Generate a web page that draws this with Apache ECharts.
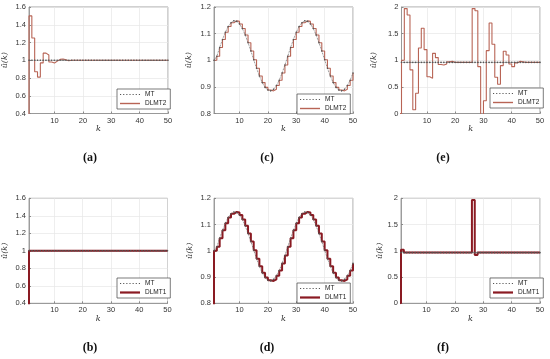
<!DOCTYPE html>
<html><head><meta charset="utf-8">
<script src="https://cdn.jsdelivr.net/npm/echarts@6/dist/echarts.min.js"></script>
<style>html,body{margin:0;padding:0;background:#fff}#c{width:550px;height:359px}</style>
</head><body><div id="c"></div>
<script>
// ---- data (k = 0..50 for controllers, k = 1..50 for MT) ----
const dlmt2A = [0, 1.50, 1.25, 0.87, 0.81, 0.97, 1.08, 1.06, 0.98, 0.97, 0.99, 1.01, 1.015, 1.005, 0.995,
  1,1,1,1,1,1,1,1,1,1,1,1,1,1,1,1,1,1,1,1,1,1,1,1,1,1,1,1,1,1,1,1,1,1,1,1];
const mtA = [1,1,1,1,1,1,1,1,1,1,1,1,1,1,1,1,1,1,1,1,1,1,1,1,1,1,1,1,1,1,1,1,1,1,1,1,1,1,1,1,1,1,1,1,1,1,1,1,1,1];
const dlmt1B = [0, 1,1,1,1,1,1,1,1,1,1,1,1,1,1,1,1,1,1,1,1,1,1,1,1,1,1,1,1,1,1,1,1,1,1,1,1,1,1,1,1,1,1,1,1,1,1,1,1,1,1];
const mtB = [1,1,1,1,1,1,1,1,1,1,1,1,1,1,1,1,1,1,1,1,1,1,1,1,1,1,1,1,1,1,1,1,1,1,1,1,1,1,1,1,1,1,1,1,1,1,1,1,1,1];
const mtC = [1.000,1.015,1.048,1.078,1.105,1.127,1.141,1.148,1.146,1.136,1.119,1.095,1.066,1.035,1.002,0.970,0.941,0.916,0.898,0.888,
  0.885,0.891,0.905,0.925,0.952,0.982,1.015,1.048,1.078,1.105,1.127,1.141,1.148,1.146,1.136,1.119,1.095,1.066,1.035,1.002,
  0.970,0.941,0.916,0.898,0.888,0.885,0.891,0.905,0.925,0.952];
const dlmt2C = [1.000,1.015,1.048,1.078,1.105,1.127,1.141,1.148,1.146,1.136,1.119,1.095,1.066,1.035,1.002,0.970,0.941,0.916,0.898,0.888,
  0.885,0.891,0.905,0.925,0.952,0.982,1.015,1.048,1.078,1.105,1.127,1.141,1.148,1.146,1.136,1.119,1.095,1.066,1.035,1.002,
  0.970,0.941,0.916,0.898,0.888,0.885,0.891,0.905,0.925,0.952];
const mtD = [1.000,1.015,1.048,1.078,1.105,1.127,1.141,1.148,1.146,1.136,1.119,1.095,1.066,1.035,1.002,0.970,0.941,0.916,0.898,0.888,
  0.885,0.891,0.905,0.925,0.952,0.982,1.015,1.048,1.078,1.105,1.127,1.141,1.148,1.146,1.136,1.119,1.095,1.066,1.035,1.002,
  0.970,0.941,0.916,0.898,0.888,0.885,0.891,0.905,0.925,0.952];
const dlmt1D = [0, 1.000,1.015,1.048,1.078,1.105,1.127,1.141,1.148,1.146,1.136,1.119,1.095,1.066,1.035,1.002,0.970,0.941,0.916,0.898,0.888,
  0.885,0.891,0.905,0.925,0.952,0.982,1.015,1.048,1.078,1.105,1.127,1.141,1.148,1.146,1.136,1.119,1.095,1.066,1.035,1.002,
  0.970,0.941,0.916,0.898,0.888,0.885,0.891,0.905,0.925,0.952];
const dlmt2E = [0, 1.00, 1.97, 1.85, 0.82, 0.07, 0.38, 1.23, 1.60, 1.20, 0.69, 0.66, 1.13, 1.05, 0.92, 0.91, 0.93, 0.97, 0.98, 0.96,
  0.96, 0.96, 0.96, 0.96, 0.96, 0.96,
  1.97, 1.93, 0.88, -0.05, 0.24, 1.18, 1.70, 1.30, 0.68, 0.55, 0.90, 1.17, 1.10, 0.93, 0.88, 0.95, 0.98, 0.97,
  0.96, 0.96, 0.96, 0.96, 0.96, 0.96, 0.96];
const mtE = [0.96,0.96,0.96,0.96,0.96,0.96,0.96,0.96,0.96,0.96,0.96,0.96,0.96,0.96,0.96,0.96,0.96,0.96,0.96,0.96,0.96,0.96,0.96,0.96,0.96,
  0.96,0.96,0.96,0.96,0.96,0.96,0.96,0.96,0.96,0.96,0.96,0.96,0.96,0.96,0.96,0.96,0.96,0.96,0.96,0.96,0.96,0.96,0.96,0.96,0.96];
const dlmt1F = [0, 1.02,
  0.97,0.97,0.97,0.97,0.97,0.97,0.97,0.97,0.97,0.97,0.97,0.97,0.97,0.97,0.97,0.97,0.97,0.97,0.97,0.97,0.97,0.97,0.97,0.97,
  1.97, 0.92,
  0.97,0.97,0.97,0.97,0.97,0.97,0.97,0.97,0.97,0.97,0.97,0.97,0.97,0.97,0.97,0.97,0.97,0.97,0.97,0.97,0.97,0.97,0.97];
const mtF = [0.965,0.965,0.965,0.965,0.965,0.965,0.965,0.965,0.965,0.965,0.965,0.965,0.965,0.965,0.965,0.965,0.965,0.965,0.965,0.965,0.965,0.965,0.965,0.965,0.965,
  0.965,0.965,0.965,0.965,0.965,0.965,0.965,0.965,0.965,0.965,0.965,0.965,0.965,0.965,0.965,0.965,0.965,0.965,0.965,0.965,0.965,0.965,0.965,0.965,0.965];
const yTicksA = [0.4, 1.6, 0.2];
const yTicksC = [0.8, 1.2, 0.1];
const yTicksE = [0, 2, 0.5];
const yName = 'û(k)';
const xName = 'k';

// ---- layout ----
const SANS = 'Liberation Sans, Arial, sans-serif';
const panels = [
  {cap:'(a)', g:[29,7,139,106.5], yt:yTicksA, ctl:'DLMT2', ctlData:dlmt2A, ctlStart:0, mt:mtA, lg:[117,89], cx:90, cy:158, ng:20, xg:8},
  {cap:'(b)', g:[28.5,198.3,139,105], yt:yTicksA, ctl:'DLMT1', ctlData:dlmt1B, ctlStart:0, mt:mtB, lg:[117,278], cx:90, cy:348, ng:20, xg:9},
  {cap:'(c)', g:[214,7,139,106.5], yt:yTicksC, ctl:'DLMT2', ctlData:dlmt2C, ctlStart:1, mt:mtC, lg:[297,94], cx:267, cy:158, ng:21, xg:8},
  {cap:'(d)', g:[214,198.3,139,105], yt:yTicksC, ctl:'DLMT1', ctlData:dlmt1D, ctlStart:0, mt:mtD, lg:[297,283], cx:267, cy:348, ng:20, xg:9},
  {cap:'(e)', g:[401.5,7,138.5,106.5], yt:yTicksE, ctl:'DLMT2', ctlData:dlmt2E, ctlStart:0, mt:mtE, lg:[490,88], cx:443, cy:158, ng:24, xg:8},
  {cap:'(f)', g:[401,198.3,139,105], yt:yTicksE, ctl:'DLMT1', ctlData:dlmt1F, ctlStart:0, mt:mtF, lg:[490,278], cx:443, cy:348, ng:17, xg:9}
];
const ctlColor = {DLMT2:'#b86455', DLMT1:'#8a1a22'};
const ctlWidth = {DLMT2:1.1, DLMT1:2};
const iconMT = 'path://M0,0h1.1v1.1h-1.1zM3,0h1.1v1.1h-1.1zM6,0h1.1v1.1h-1.1zM9,0h1.1v1.1h-1.1zM12,0h1.1v1.1h-1.1zM15,0h1.1v1.1h-1.1zM18,0h1.1v1.1h-1.1z';
const iconCtl = {DLMT2:'path://M0,0h20v1.4h-20z', DLMT1:'path://M0,0h20v2.2h-20z'};

const grid = [], xAxis = [], yAxis = [], series = [], legend = [], graphic = [];
panels.forEach((p, i) => {
  grid.push({left:p.g[0], top:p.g[1], width:p.g[2], height:p.g[3], show:true, borderColor:'#8a8a8a', borderWidth:0.8, backgroundColor:'#fff'});
  xAxis.push({type:'value', gridIndex:i, min:1, max:50, splitNumber:5,
    name:xName, nameLocation:'middle', nameGap:p.xg,
    nameTextStyle:{fontSize:8, fontStyle:'italic', color:'#333', fontFamily:'DejaVu Serif, serif'},
    axisLine:{lineStyle:{color:'#8a8a8a', width:0.8}},
    axisTick:{inside:true, length:2, lineStyle:{color:'#8a8a8a'}},
    axisLabel:{fontSize:7.5, color:'#333', margin:3, fontFamily:SANS, showMinLabel:false},
    splitLine:{show:true, lineStyle:{color:'#e6e6e6', width:0.7}}});
  yAxis.push({type:'value', gridIndex:i, min:p.yt[0], max:p.yt[1], interval:p.yt[2],
    name:yName, nameLocation:'middle', nameGap:p.ng, nameRotate:90,
    nameTextStyle:{fontSize:8, fontStyle:'italic', color:'#333', fontFamily:'DejaVu Serif, serif'},
    axisLine:{show:true, lineStyle:{color:'#8a8a8a', width:0.8}},
    axisTick:{show:true, inside:true, length:2, lineStyle:{color:'#8a8a8a'}},
    axisLabel:{fontSize:7.5, color:'#333', margin:3, fontFamily:SANS},
    splitLine:{show:true, lineStyle:{color:'#e6e6e6', width:0.7}}});
  series.push({type:'line', name:p.ctl, xAxisIndex:i, yAxisIndex:i, step:'end', symbol:'none', z:2,
    data:p.ctlData.map((v, j) => [j + p.ctlStart, v]),
    lineStyle:{color:ctlColor[p.ctl], width:ctlWidth[p.ctl]}, itemStyle:{color:ctlColor[p.ctl]}, silent:true});
  series.push({type:'line', name:'MT', xAxisIndex:i, yAxisIndex:i, symbol:'circle', symbolSize:1.6, showAllSymbol:true, z:3,
    data:p.mt.map((v, j) => [j + 1, v]),
    lineStyle:{color:'#555', width:0.8, type:'dotted'}, itemStyle:{color:'#555'}, silent:true});
  legend.push({data:[{name:'MT', icon:iconMT}, {name:p.ctl, icon:iconCtl[p.ctl], itemStyle:{color:ctlColor[p.ctl]}}], orient:'vertical', left:p.lg[0], top:p.lg[1],
    itemWidth:20, itemHeight:6, itemGap:2,
    padding:[2,4,2,3], borderColor:'#444', borderWidth:0.7, borderRadius:0, backgroundColor:'#fff', selectedMode:false,
    textStyle:{fontSize:6.5, color:'#222', fontFamily:SANS}});
  graphic.push({type:'text', x:p.cx, y:p.cy, style:{text:p.cap, font:'bold 12px "Liberation Serif", "DejaVu Serif", serif', fill:'#111', textAlign:'center', textVerticalAlign:'middle'}});
});

const chart = echarts.init(document.getElementById('c'), null, {renderer:'canvas'});
chart.setOption({animation:false, backgroundColor:'#fff', grid, xAxis, yAxis, series, legend, graphic});
</script></body></html>
